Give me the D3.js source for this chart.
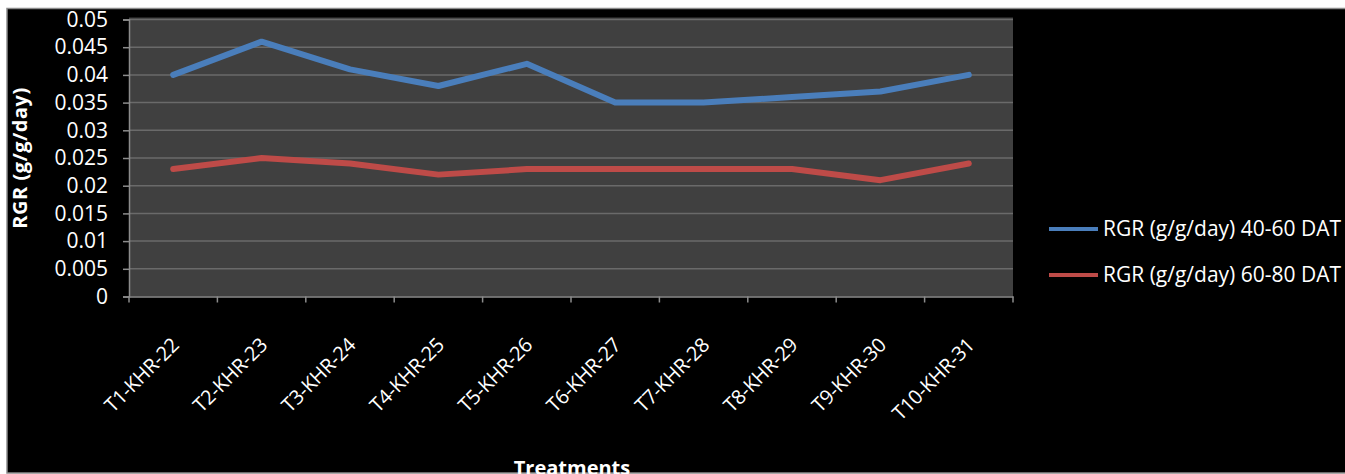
<!DOCTYPE html>
<html>
<head>
<meta charset="utf-8">
<script src="https://cdn.jsdelivr.net/npm/d3@7"></script>
<style>
  html, body { margin: 0; padding: 0; background: #fff; }
  svg { display: block; }
</style>
</head>
<body>
<div id="chart"></div>
<script>
const treatments = ["T1-KHR-22", "T2-KHR-23", "T3-KHR-24", "T4-KHR-25", "T5-KHR-26",
    "T6-KHR-27", "T7-KHR-28", "T8-KHR-29", "T9-KHR-30", "T10-KHR-31"];
const rgr4060 = [0.040, 0.046, 0.041, 0.038, 0.042, 0.035, 0.035, 0.036, 0.037, 0.040];
const rgr6080 = [0.023, 0.025, 0.024, 0.022, 0.023, 0.023, 0.023, 0.023, 0.021, 0.024];
const yTicks = [0, 0.005, 0.01, 0.015, 0.02, 0.025, 0.03, 0.035, 0.04, 0.045, 0.05];
const seriesNames = ["RGR (g/g/day) 40-60 DAT", "RGR (g/g/day) 60-80 DAT"];

const width = 1345;
const height = 474;
const marginTop = 19.5;
const marginLeft = 129;
const plotRight = 1013;
const plotBottom = 296.5;
const font = "'Open Sans', sans-serif";

const series = [
    {name: seriesNames[0], values: rgr4060, color: "#4a7ebb"},
    {name: seriesNames[1], values: rgr6080, color: "#be4b48"}
];

const svg = d3.select("#chart").append("svg")
    .attr("width", width)
    .attr("height", height)
    .attr("viewBox", [0, 0, width, height]);

// chart frame
svg.append("rect")
    .attr("x", 7).attr("y", 8.5)
    .attr("width", width).attr("height", 464.5)
    .attr("fill", "#000")
    .attr("stroke", "#8c8c8c")
    .attr("stroke-width", 1.5);

const x = d3.scaleBand()
    .domain(treatments)
    .range([marginLeft, plotRight]);

const y = d3.scaleLinear()
    .domain([0, 0.05])
    .range([plotBottom, marginTop]);

svg.append("rect")
    .attr("x", marginLeft).attr("y", marginTop - 2)
    .attr("width", plotRight - marginLeft).attr("height", plotBottom - marginTop + 2)
    .attr("fill", "#404040");

// gridlines
svg.append("g")
    .selectAll("line")
    .data(yTicks.slice(1))
    .join("line")
    .attr("x1", marginLeft).attr("x2", plotRight)
    .attr("y1", d => y(d)).attr("y2", d => y(d))
    .attr("stroke", "#6a6a6a")
    .attr("stroke-width", 1.5);

// y axis
svg.append("g")
    .attr("transform", `translate(${marginLeft},0)`)
    .call(d3.axisLeft(y).tickValues(yTicks).tickFormat(d => String(+d.toFixed(3))).tickSize(6).tickPadding(15))
    .call(g => g.select(".domain").attr("stroke", "#8c8c8c").attr("stroke-width", 1.5))
    .call(g => g.selectAll(".tick line").attr("stroke", "#8c8c8c").attr("stroke-width", 1.5))
    .call(g => g.selectAll(".tick text")
        .attr("fill", "#fff")
        .attr("font-family", font)
        .attr("font-size", 21));

// x axis
const xAxis = svg.append("g")
    .attr("transform", `translate(0,${plotBottom})`)
    .call(d3.axisBottom(x).tickSize(0).tickFormat(""))
    .call(g => g.select(".domain").attr("stroke", "#8c8c8c").attr("stroke-width", 1.5));

xAxis.selectAll("line.cat")
    .data(d3.range(treatments.length + 1))
    .join("line")
    .attr("class", "cat")
    .attr("x1", i => marginLeft + i * x.step())
    .attr("x2", i => marginLeft + i * x.step())
    .attr("y1", 0).attr("y2", 6)
    .attr("stroke", "#8c8c8c")
    .attr("stroke-width", 1.5);

xAxis.selectAll("text.lab")
    .data(treatments)
    .join("text")
    .attr("class", "lab")
    .attr("transform", d => `translate(${x(d) + x.bandwidth() / 2 + 2},${45}) rotate(-45)`)
    .attr("text-anchor", "end")
    .attr("dy", "0.35em")
    .attr("fill", "#fff")
    .attr("font-family", font)
    .attr("font-size", 20)
    .attr("letter-spacing", -0.3)
    .text(d => d);

// lines
const line = d3.line()
    .x((d, i) => x(treatments[i]) + x.bandwidth() / 2)
    .y(d => y(d));

svg.append("g")
    .selectAll("path")
    .data(series)
    .join("path")
    .attr("fill", "none")
    .attr("stroke", d => d.color)
    .attr("stroke-width", 6)
    .attr("stroke-linejoin", "round")
    .attr("stroke-linecap", "round")
    .attr("d", d => line(d.values));

// axis titles
svg.append("text")
    .attr("transform", `translate(27,158) rotate(-90)`)
    .attr("text-anchor", "middle")
    .attr("fill", "#fff")
    .attr("font-family", font)
    .attr("font-weight", "bold")
    .attr("font-size", 20)
    .attr("letter-spacing", 0.5)
    .text("RGR (g/g/day)");

svg.append("text")
    .attr("x", 572)
    .attr("y", 475)
    .attr("text-anchor", "middle")
    .attr("fill", "#fff")
    .attr("font-family", font)
    .attr("font-weight", "bold")
    .attr("font-size", 20)
    .text("Treatments");

// legend
const legend = svg.append("g")
    .selectAll("g")
    .data(series)
    .join("g")
    .attr("transform", (d, i) => `translate(1049,${229 + i * 46})`);

legend.append("line")
    .attr("x1", 0).attr("x2", 49)
    .attr("stroke", d => d.color)
    .attr("stroke-width", 4);

legend.append("text")
    .attr("x", 54)
    .attr("dy", "0.35em")
    .attr("fill", "#fff")
    .attr("font-family", font)
    .attr("font-size", 21)
    .text(d => d.name);
</script>
</body>
</html>
